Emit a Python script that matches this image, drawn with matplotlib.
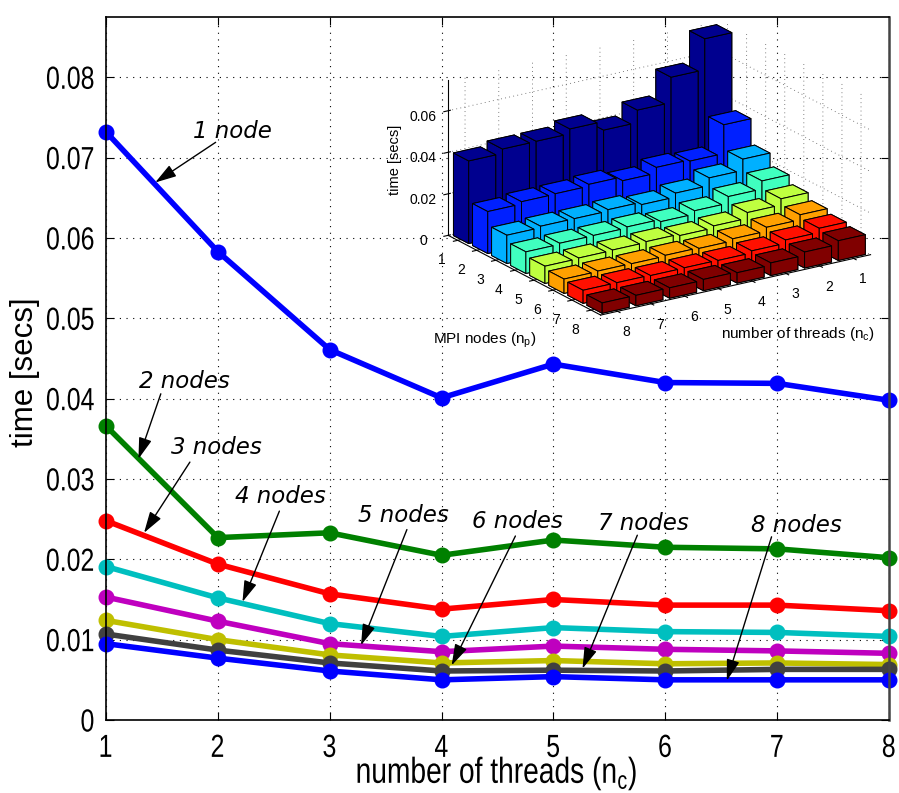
import numpy as np
import matplotlib
matplotlib.use('Agg')
import matplotlib.pyplot as plt
from matplotlib.patheffects import AbstractPathEffect
from matplotlib.transforms import Affine2D

threads = [1, 2, 3, 4, 5, 6, 7, 8]
node1 = [.0732, .0583, .0461, .0401, .0443, .0420, .0419, .0398]
node2 = [.0366, .0227, .0233, .0205, .0224, .0215, .0213, .0202]
node3 = [.0248, .0194, .0157, .0138, .0150, .0143, .0143, .0136]
node4 = [.0191, .0152, .0120, .0104, .0115, .0110, .0109, .0104]
node5 = [.0153, .0123, .0095, .0085, .0092, .0088, .0086, .0083]
node6 = [.0124, .0100, .0081, .0071, .0074, .0070, .0071, .0069]
node7 = [.0107, .0087, .0071, .0061, .0062, .0061, .0063, .0063]
node8 = [.0095, .0077, .0061, .0050, .0054, .0050, .0050, .0050]
all_nodes = [node1, node2, node3, node4, node5, node6, node7, node8]

line_colors = ['#0000ff', '#008000', '#ff0000', '#00bfbf', '#bf00bf', '#bfbf00', '#404040', '#0000ff']
bar_colors = ['#00008f', '#0020ff', '#00b0ff', '#40ffbf', '#bfff40', '#ffa000', '#ff1000', '#800000']

y_ticks = [0, .01, .02, .03, .04, .05, .06, .07, .08]
y_tick_labels = ['0', '0.01', '0.02', '0.03', '0.04', '0.05', '0.06', '0.07', '0.08']

# label text, text centre, arrow start, arrow tip (data coordinates)
note_labels = ['1 node', '2 nodes', '3 nodes', '4 nodes', '5 nodes', '6 nodes', '7 nodes', '8 nodes']
note_text = [(2.13, .0732), (1.70, .0421), (1.99, .0339), (2.56, .0278),
             (3.66, .0254), (4.68, .0247), (5.80, .0245), (7.17, .0242)]
note_start = [(1.98, .0719), (1.49, .0406), (1.75, .0321), (2.55, .0260),
              (3.69, .0237), (4.66, .0229), (5.75, .0230), (6.95, .0228)]
note_tip = [(1.44, .0669), (1.29, .0325), (1.34, .0233), (2.22, .0147),
            (3.28, .0093), (4.09, .0068), (5.26, .0064), (6.55, .0049)]


class Squeeze(AbstractPathEffect):
    # the original labels are condensed, squeeze the glyphs sideways
    def __init__(self, sx, anchor):
        super().__init__()
        self.sx = sx
        self.anchor = anchor

    def draw_path(self, renderer, gc, tpath, affine, rgbFace=None):
        m = affine.get_matrix().copy()
        w = tpath.get_extents().width * m[0, 0]
        m[0, 0] *= self.sx
        m[0, 2] += self.anchor * w * (1 - self.sx)
        renderer.draw_path(gc, tpath, Affine2D(m), rgbFace)


W, H = 899, 793
sans = 'Liberation Sans'
fig = plt.figure(figsize=(W / 100, H / 100), dpi=100)
ax = fig.add_axes([106 / W, 73 / H, 783 / W, 703 / H])

for vals, col in zip(all_nodes, line_colors):
    ax.plot(threads, vals, '-o', color=col, lw=4, ms=10.5, clip_on=False)

ax.set_xlim(1, 8)
ax.set_ylim(0, .0875)
ax.set_xticks(threads)
ax.set_yticks(y_ticks)
ax.set_yticklabels(y_tick_labels)
ax.tick_params(direction='in', length=6, width=.8, top=True, right=True, labelsize=23)
ax.tick_params(axis='x', pad=10)
ax.tick_params(axis='y', pad=8)
for lab in ax.get_xticklabels():
    lab.set_family(sans)
    lab.set_path_effects([Squeeze(.78, .5)])
for lab in ax.get_yticklabels():
    lab.set_family(sans)
    lab.set_path_effects([Squeeze(.78, 1)])
ax.grid(True, color='k', ls=(0, (1, 5)), lw=.8)
ax.set_axisbelow(True)
for s in ax.spines.values():
    s.set_linewidth(1.2)
ax.spines['right'].set_color('#444444')
ax.spines['right'].set_linewidth(1.8)

ax.set_xlabel('number of threads (n$_{\\mathregular{c}}$)', fontsize=26, family=sans,
              path_effects=[Squeeze(.78, .5)])
ax.xaxis.set_label_coords((497 - 106) / 783, (720 - 754) / 703)
ax.set_ylabel('time [secs]', fontsize=22.5, family=sans)
ax.yaxis.set_label_coords(-.084, .495)

for lab, tp, st, tip in zip(note_labels, note_text, note_start, note_tip):
    ax.text(tp[0], tp[1], lab, fontsize=16.5, style='italic', ha='center', va='center', zorder=6)
    ax.annotate('', xy=tip, xytext=st, zorder=6,
                arrowprops=dict(arrowstyle='-|>,head_length=1.3,head_width=.4', color='k', lw=1,
                                shrinkA=0, shrinkB=0))

# inset with the same timings as 3d bars
ax3 = fig.add_axes([400 / W, 1 - 352 / H, 509 / W, 360 / H], projection='3d',
                   proj_type='ortho', computed_zorder=False)
ax3.patch.set_alpha(0)
ax3.view_init(elev=20, azim=56.8)
ax3.set_box_aspect((323, 279, 166), zoom=1.233)
width = .8
for j, vals in enumerate(all_nodes):
    for i, v in enumerate(vals):
        bars = ax3.bar3d(threads[i] - width / 2, j + 1 - width / 2, 0, width, width, v,
                         color=bar_colors[j], edgecolor='k', linewidth=.7, shade=False,
                         zorder=10 + i + j)
        # 3d axes shrink to a square, do not let that cut the bars
        bars.set_clip_on(False)
ax3.set_xlim(.5, 8.5)
ax3.set_ylim(.5, 8.5)
ax3.set_zlim(0, .075)
ax3.set_xticks(threads)
ax3.set_yticks(threads)
ax3.set_zticks([0, .02, .04, .06])
ax3.set_zticklabels(['0', '0.02', '0.04', '0.06'])
ax3.tick_params(labelsize=10, pad=0)
for a in (ax3.xaxis, ax3.yaxis, ax3.zaxis):
    a.set_pane_color((1, 1, 1, 0))
    a.pane.set_edgecolor((0, 0, 0, 0))
    a._axinfo['grid'].update(color='#555555', linestyle=(0, (1, 4)), linewidth=.6)
ax3.zaxis.set_ticks_position('lower')
for lab in ax3.get_xticklabels() + ax3.get_yticklabels() + ax3.get_zticklabels():
    lab.set_family(sans)

fig.text(485 / W, 1 - 340 / H, 'MPI nodes (n$_{\\mathregular{p}}$)', fontsize=11, family=sans, ha='center', va='center')
fig.text(798 / W, 1 - 334 / H, 'number of threads (n$_{\\mathregular{c}}$)', fontsize=11, family=sans, ha='center', va='center')
fig.text(395 / W, 1 - 160 / H, 'time [secs]', fontsize=10.5, family=sans, rotation=90, ha='center', va='center')

fig.savefig('out.png', dpi=100)
